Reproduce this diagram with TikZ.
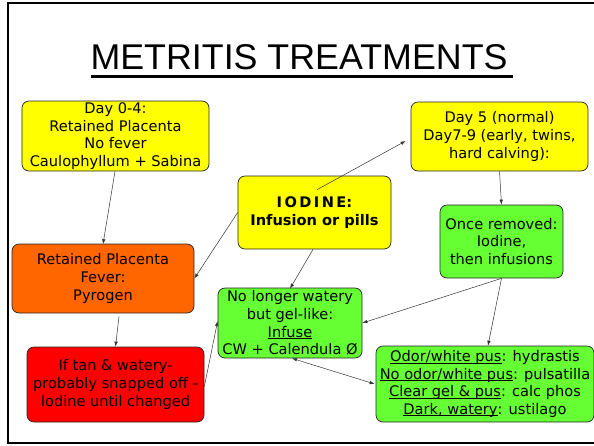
\documentclass[tikz,border=0pt]{standalone}
\usepackage{fontspec}
\setmainfont{DejaVu Sans}
\newfontfamily\titlefont{Liberation Sans}
\usetikzlibrary{arrows.meta}
\definecolor{cyel}{HTML}{FFFF00}
\definecolor{corg}{HTML}{FF6600}
\definecolor{cred}{HTML}{FF0000}
\definecolor{cgrn}{HTML}{66FF33}
\newcommand\myul[1]{\setbox0\hbox{#1}\rlap{\rule[-1.8pt]{\wd0}{0.75pt}}\box0}
\begin{document}
\begin{tikzpicture}[x=1pt,y=-1pt,
  box/.style={draw=black!85, line width=0.7pt, rounded corners=7pt, align=center,
    inner sep=0pt, font=\fontsize{14.6}{17.6}\selectfont},
  arr/.style={-{Latex[length=5pt,width=3.5pt]}, line width=0.5pt, draw=black!80},
  darr/.style={{Latex[length=5pt,width=3.5pt]}-{Latex[length=5pt,width=3.5pt]}, line width=0.5pt, draw=black!80}]
\useasboundingbox (0,0) rectangle (594,445);
\draw[line width=2pt] (594,3) -- (8,3) -- (8,443) -- (594,443);
\node[font=\titlefont\fontsize{35.8}{38}\selectfont, anchor=base, inner sep=0pt] (title) at (299,69) {METRITIS TREATMENTS};
\draw[line width=3pt] (91,76.5) -- (513,76.5);

\node[box, fill=cyel, minimum width=187pt, minimum height=70pt] (d04) at (115.5,136) {Day 0-4:\\Retained Placenta\\No fever\\Caulophyllum + Sabina};
\node[box, fill=cyel, minimum width=177pt, minimum height=69pt] (d5) at (499.5,136.5) {Day 5 (normal)\\Day7-9 (early, twins,\\hard calving):};
\node[box, fill=cyel, minimum width=153pt, minimum height=73pt, font=\bfseries\fontsize{14.6}{17.6}\selectfont] (iod) at (314.5,212.5) {I\,O\,D\,I\,N\,E:\\Infusion or pills};
\node[box, fill=cgrn, minimum width=123pt, minimum height=73pt] (once) at (501.5,241.5) {Once removed:\\Iodine,\\then infusions};
\node[box, fill=corg, minimum width=182pt, minimum height=69pt] (pyr) at (103,278.5) {Retained Placenta\\Fever:\\Pyrogen};
\node[box, fill=cred, minimum width=177pt, minimum height=75pt] (tan) at (115.5,384.5) {If tan \& watery-\\probably snapped off -\\Iodine until changed};
\node[box, fill=cgrn, minimum width=144pt, minimum height=70pt] (gel) at (290,323) {No longer watery\\but gel-like:\\\myul{Infuse}\\CW + Calendula Ø};
\node[box, fill=cgrn, minimum width=218pt, minimum height=76pt] (odor) at (485,384) {\myul{Odor/white pus}: hydrastis\\\myul{No odor/white pus}: pulsatilla\\\myul{Clear gel \& pus}: calc phos\\\myul{Dark, watery}: ustilago};

\draw[arr] ([xshift=-0.5pt]d04.south) -- ([yshift=-0.5pt]pyr.north);
\draw[arr] ([shift={(2.5pt,-14pt)}]iod.north) -- ([shift={(-5pt,-4.5pt)}]d5.west);
\draw[arr] (iod.west) -- (pyr.east);
\draw[arr] ([xshift=-1.5pt]iod.south) -- ([yshift=-1pt]gel.north);
\draw[arr] (d5.south) -- (once.north);
\draw[arr] (once.south) -- (gel.east);
\draw[arr] (once.south) -- ([xshift=3pt]odor.north);
\draw[arr] ([shift={(16pt,-3pt)}]pyr.south) -- (tan.north);
\draw[arr] ([yshift=-2pt]tan.east) -- ([yshift=2pt]gel.west);
\draw[darr] ([xshift=2pt]gel.south) -- ([xshift=-1pt]odor.west);
\end{tikzpicture}
\end{document}
